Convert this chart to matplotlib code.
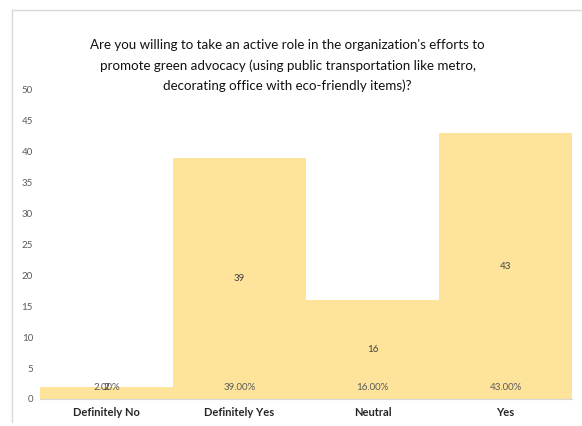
import matplotlib
matplotlib.use('Agg')
import matplotlib.pyplot as plt
from matplotlib.lines import Line2D

categories = ['Definitely No', 'Definitely Yes', 'Neutral', 'Yes']
counts = [2, 39, 16, 43]
shares = [2.00, 39.00, 16.00, 43.00]
title = ("Are you willing to take an active role in the organization's efforts to\n"
         "promote green advocacy (using public transportation like metro,\n"
         "decorating office with eco-friendly items)?")

plt.rcParams['font.family'] = ['Lato', 'DejaVu Sans']

fig = plt.figure(figsize=(5.82, 4.26), dpi=100)
ax = fig.add_axes([0.0687, 0.0634, 0.9143, 0.7254])

x = range(len(categories))
ax.bar(x, counts, width=1.0, color='#FEE49B', edgecolor='none', zorder=2)

for i, (c, s) in enumerate(zip(counts, shares)):
    ax.text(i, max(c / 2, 1.8), f'{c}', ha='center', va='center', fontsize=7, color='#404040', zorder=3)
    ax.text(i, 1.8, f'{s:.2f}%', ha='center', va='center', fontsize=7, color='#595959', zorder=3)

ax.set_xlim(-0.5, len(categories) - 0.5)
ax.set_ylim(0, 50)
ax.set_yticks(range(0, 51, 5))
ax.set_xticks(list(x))
ax.set_xticklabels(categories, fontsize=8, fontweight='bold', color='#262626')
ax.tick_params(axis='y', length=0, labelsize=7, labelcolor='#595959', pad=5)
ax.tick_params(axis='x', length=0, pad=6)
for side in ['top', 'right', 'left']:
    ax.spines[side].set_visible(False)
ax.spines['bottom'].set_color('#D9D9D9')
ax.spines['bottom'].set_linewidth(0.8)

fig.text(0.494, 0.908, title, ha='center', va='top', fontsize=9.6, color='#111111',
         linespacing=1.75)

# outer chart frame
fig.add_artist(Line2D([12 / 582, 12 / 582], [0.01, 1 - 10 / 426], color='#D9D9D9', lw=1))
fig.add_artist(Line2D([12 / 582, 1.0], [1 - 10 / 426, 1 - 10 / 426], color='#D9D9D9', lw=1))

fig.savefig('out.png', dpi=100)
